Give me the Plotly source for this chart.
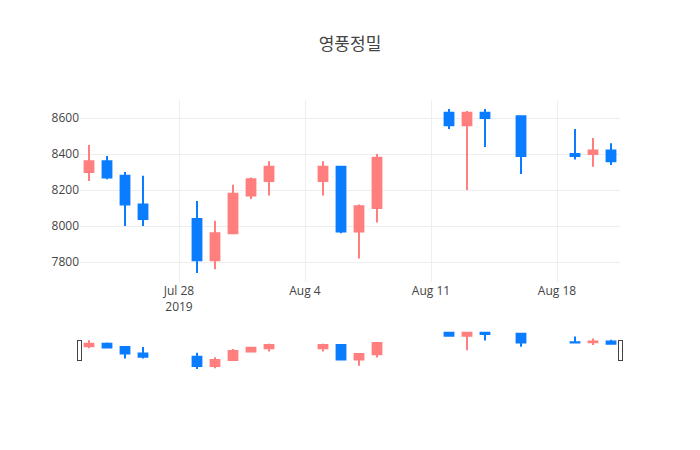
import plotly.graph_objects as go

dates = ["2019-07-23", "2019-07-24", "2019-07-25", "2019-07-26", "2019-07-29",
         "2019-07-30", "2019-07-31", "2019-08-01", "2019-08-02", "2019-08-05",
         "2019-08-06", "2019-08-07", "2019-08-08", "2019-08-12", "2019-08-13",
         "2019-08-14", "2019-08-16", "2019-08-19", "2019-08-20", "2019-08-21"]
open_ = [8300, 8360, 8280, 8120, 8040, 7810, 7960, 8170, 8250, 8250,
         8330, 7970, 8100, 8630, 8560, 8630, 8610, 8400, 8400, 8420]
high = [8450, 8390, 8300, 8280, 8140, 8030, 8230, 8270, 8360, 8360,
        8330, 8120, 8400, 8650, 8640, 8650, 8610, 8540, 8490, 8460]
low = [8250, 8260, 8000, 8000, 7740, 7760, 7960, 8150, 8170, 8170,
       7960, 7820, 8020, 8540, 8200, 8440, 8290, 8370, 8330, 8340]
close = [8360, 8270, 8120, 8040, 7810, 7960, 8180, 8260, 8330, 8330,
         7970, 8110, 8380, 8560, 8630, 8600, 8390, 8390, 8420, 8360]

fig = go.Figure(go.Candlestick(
    x=dates, open=open_, high=high, low=low, close=close,
    increasing=dict(line=dict(color="#FF7F7F"), fillcolor="#FF7F7F"),
    decreasing=dict(line=dict(color="#0A7CFF"), fillcolor="#0A7CFF"),
))
fig.update_layout(
    template="none",
    title=dict(text="영풍정밀", x=0.5),
    width=700, height=450,
    font=dict(family="Open Sans, Noto Sans CJK KR, sans-serif"),
)
fig.write_html("out.html",
               config={"displayModeBar": False},
               post_script="document.body.style.margin='0';document.body.style.overflow='hidden';")
